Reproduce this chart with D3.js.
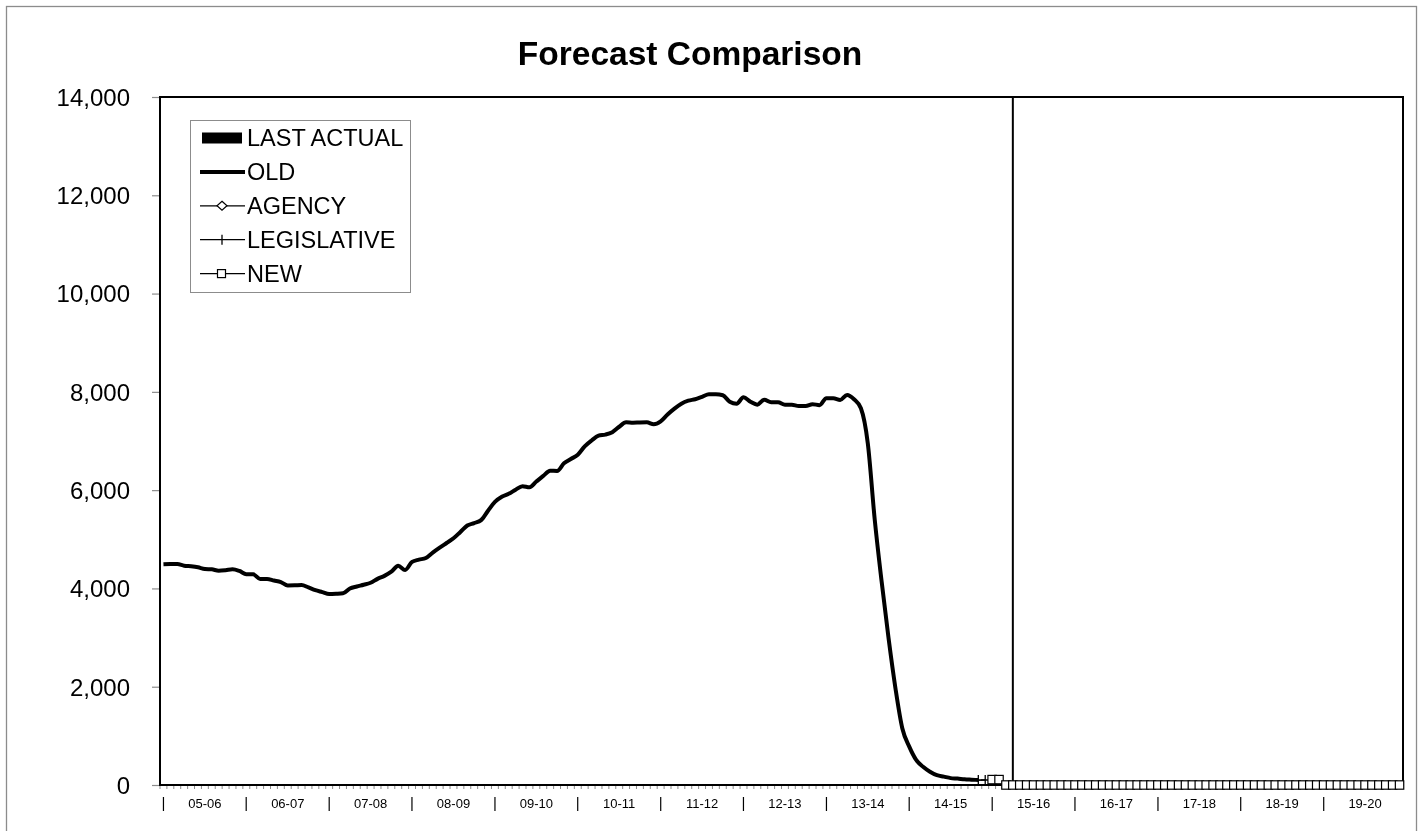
<!DOCTYPE html>
<html><head><meta charset="utf-8">
<script src="https://cdn.jsdelivr.net/npm/d3@7"></script>
<style>
body{margin:0;background:#fff}
svg{display:block;will-change:transform}
text{font-family:"Liberation Sans",Arial,sans-serif;fill:#000}
</style>
</head><body>
<svg id="chart" width="1422" height="831"></svg>
<script>
// ---------------- DATA ----------------
const fiscalYears = ["05-06","06-07","07-08","08-09","09-10","10-11","11-12","12-13","13-14","14-15","15-16","16-17","17-18","18-19","19-20"];
const monthNames = ["Jul","Aug","Sep","Oct","Nov","Dec","Jan","Feb","Mar","Apr","May","Jun"];
const categories = fiscalYears.flatMap(fy => monthNames.map(m => fy + " " + m));
const yTicks = [0,2000,4000,6000,8000,10000,12000,14000];
const seriesNames = ["LAST ACTUAL","OLD","AGENCY","LEGISLATIVE","NEW"];

// OLD forecast, monthly from first category
const oldValues = [
 4490,4495,4497,4462,4450,4430,4396,4389,4360,4370,4389,4355,
 4290,4287,4192,4192,4160,4130,4060,4063,4070,4020,3965,3925,
 3885,3890,3900,4000,4040,4075,4115,4195,4255,4340,4460,4375,
 4540,4585,4620,4730,4830,4925,5020,5150,5280,5330,5390,5580,
 5760,5865,5925,6010,6080,6057,6175,6290,6396,6390,6545,6635,
 6720,6890,7010,7108,7130,7180,7290,7380,7373,7378,7380,7340,
 7400,7540,7660,7760,7820,7850,7900,7950,7950,7930,7800,7760,
 7890,7800,7740,7840,7790,7790,7740,7740,7710,7710,7750,7730,
 7870,7870,7835,7936,7850,7665,6950,5400,4140,2990,1970,1150,
 780,510,370,270,200,170,140,130,115,108,102
];
const agencyStart = 0;
const agencyValues = [];
const legislativeStart = 118;
const legislativeValues = [100,102];
const newStart = 120;
const newValues = [110,110,
 0,0,0,0,0,0,0,0,0,0,0,0,0,0,0,0,0,0,0,0,0,0,0,0,0,0,0,0,0,
 0,0,0,0,0,0,0,0,0,0,0,0,0,0,0,0,0,0,0,0,0,0,0,0,0,0,0,0,0];
const lastActualIndex = 123;
const lastActualValues = [14000];

// ---------------- CHART ----------------
const svg = d3.select("#chart");
const W = 1422, H = 831;
const plot = {left:160, right:1403, top:97, bottom:785};

// outer frame
svg.append("rect").attr("x",6.5).attr("y",6.5).attr("width",1410).attr("height",H)
  .attr("fill","#fff").attr("stroke","#8c8c8c").attr("stroke-width",1.3);

const x = d3.scaleBand().domain(categories).range([plot.left, plot.right]).padding(0);
const cx = i => x(categories[i]) + x.bandwidth()/2;
const y = d3.scaleLinear().domain([0,14000]).range([plot.bottom, plot.top]);

// title
svg.append("text").attr("x",690).attr("y",65).attr("text-anchor","middle")
  .style("font-size","33.5px").style("font-weight","bold").text("Forecast Comparison");

// y axis
const yAxis = svg.append("g").attr("transform",`translate(${plot.left},0)`)
  .call(d3.axisLeft(y).tickValues(yTicks).tickSize(8).tickPadding(22).tickFormat(d3.format(",")));
yAxis.select(".domain").remove();
yAxis.selectAll(".tick line").attr("stroke","#8c8c8c").attr("stroke-width",1.2);
yAxis.selectAll(".tick text").style("font-size","24px").style("font-family","'Liberation Sans',Arial,sans-serif").attr("fill","#000").attr("dy","0.35em");

// x axis minor ticks at category boundaries
const xg = svg.append("g");
xg.selectAll("line.mt").data(categories.concat(["__end"])).join("line")
  .attr("class","mt")
  .attr("x1",(d,i)=> i < categories.length ? x(d) : plot.right)
  .attr("x2",(d,i)=> i < categories.length ? x(d) : plot.right)
  .attr("y1",plot.bottom).attr("y2",plot.bottom+4)
  .attr("stroke","#8c8c8c").attr("stroke-width",1);

// x labels
const labelData = categories.map((c,i)=>({c,i})).filter(d => d.i % 6 === 0);
xg.selectAll("text.xl").data(labelData).join("text")
  .attr("class","xl")
  .attr("x", d => cx(d.i))
  .attr("y", plot.bottom + 18)
  .attr("dy","0.35em")
  .attr("text-anchor","middle")
  .style("font-size", d => d.i % 12 === 0 ? "15px" : "13px")
  .text(d => d.i % 12 === 0 ? "|" : fiscalYears[Math.floor(d.i/12)]);

// plot area border
svg.append("rect").attr("x",plot.left).attr("y",plot.top)
  .attr("width",plot.right-plot.left).attr("height",plot.bottom-plot.top)
  .attr("fill","none").attr("stroke","#000").attr("stroke-width",2);

// LAST ACTUAL bar
svg.selectAll("rect.la").data(lastActualValues).join("rect").attr("class","la")
  .attr("x", cx(lastActualIndex)-1).attr("width",2)
  .attr("y", d => y(d)).attr("height", d => y(0)-y(d)).attr("fill","#000");

// OLD line
const oldData = oldValues.map((v,i)=>({i,v}));
svg.append("path").datum(oldData)
  .attr("fill","none").attr("stroke","#000").attr("stroke-width",4).attr("stroke-linejoin","round")
  .attr("d", d3.line().x(d=>cx(d.i)).y(d=>y(d.v)).curve(d3.curveMonotoneX));

// AGENCY (no visible data)
const agData = agencyValues.map((v,k)=>({i:agencyStart+k,v}));
if (agData.length) {
  svg.append("path").datum(agData).attr("fill","none").attr("stroke","#000").attr("stroke-width",1.3)
    .attr("d", d3.line().x(d=>cx(d.i)).y(d=>y(d.v)));
}

// LEGISLATIVE
const legData = legislativeValues.map((v,k)=>({i:legislativeStart+k,v}));
svg.append("path").datum(legData).attr("fill","none").attr("stroke","#000").attr("stroke-width",1.3)
  .attr("d", d3.line().x(d=>cx(d.i)).y(d=>y(d.v)));
svg.selectAll("path.plus").data(legData).join("path").attr("class","plus")
  .attr("transform", d=>`translate(${cx(d.i)},${y(d.v)})`)
  .attr("d","M-4,0H4M0,-5V5").attr("stroke","#000").attr("stroke-width",1.3);

// NEW
const newData = newValues.map((v,k)=>({i:newStart+k,v}));
svg.append("path").datum(newData).attr("fill","none").attr("stroke","#000").attr("stroke-width",1.3)
  .attr("d", d3.line().x(d=>cx(d.i)).y(d=>y(d.v)));
svg.selectAll("rect.sq").data(newData).join("rect").attr("class","sq")
  .attr("x", d=>cx(d.i)-4.2).attr("y", d=>y(d.v)-4.2).attr("width",8.4).attr("height",8.4)
  .attr("fill","#fff").attr("stroke","#000").attr("stroke-width",1.2);

// legend
const lg = svg.append("g");
lg.append("rect").attr("x",190.5).attr("y",120.5).attr("width",220).attr("height",172)
  .attr("fill","#fff").attr("stroke","#8c8c8c").attr("stroke-width",1);
const ly = i => 138 + i*33.9;
seriesNames.forEach((name,i)=>{
  const g = lg.append("g").attr("transform",`translate(0,${ly(i)})`);
  if (i===0) {
    g.append("rect").attr("x",202).attr("y",-5.5).attr("width",40).attr("height",11).attr("fill","#000");
  } else if (i===1) {
    g.append("line").attr("x1",200).attr("x2",245).attr("stroke","#000").attr("stroke-width",4);
  } else {
    g.append("line").attr("x1",200).attr("x2",245).attr("stroke","#000").attr("stroke-width",1.3);
    if (i===2) g.append("path").attr("d","M222,-4.5L227,0L222,4.5L217,0Z").attr("fill","#fff").attr("stroke","#000").attr("stroke-width",1.2);
    if (i===3) g.append("path").attr("d","M222,-5V5").attr("stroke","#000").attr("stroke-width",1.3);
    if (i===4) g.append("rect").attr("x",217.5).attr("y",-4).attr("width",8).attr("height",8).attr("fill","#fff").attr("stroke","#000").attr("stroke-width",1.2);
  }
  g.append("text").attr("x",247).attr("y",0).attr("dy","0.35em").style("font-size","23.5px").text(name);
});
</script>
</body></html>
